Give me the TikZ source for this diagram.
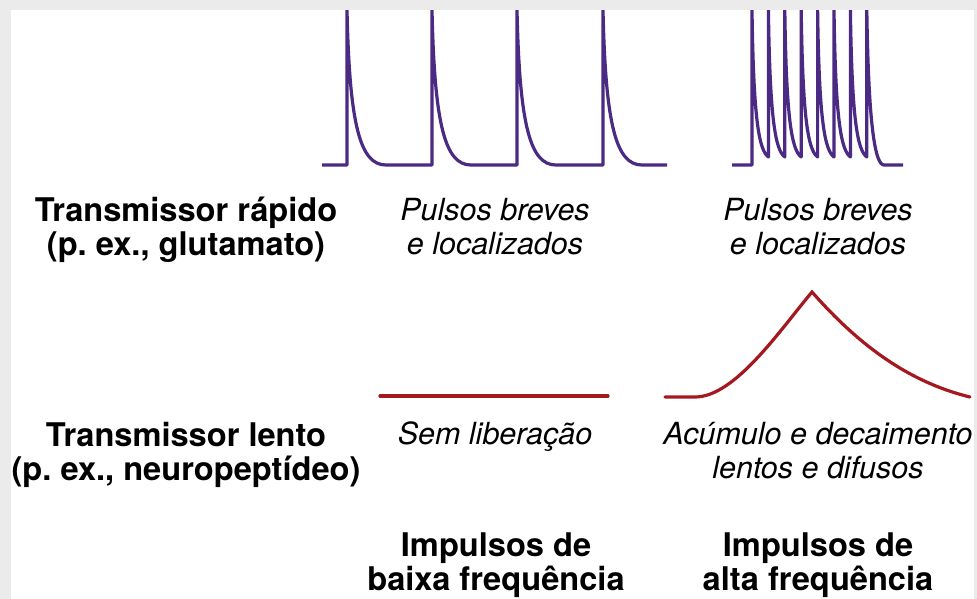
\documentclass[tikz,border=0pt]{standalone}
\usepackage{fontspec}
\setmainfont{TeX Gyre Heros}
\definecolor{bordergrey}{HTML}{EBEBEB}
\definecolor{purp}{HTML}{4A2A82}
\definecolor{dred}{HTML}{A3191F}
\frenchspacing
\begin{document}
\begin{tikzpicture}[x=1pt,y=-1pt,
  lbl/.style={font=\fontsize{32.6}{35}\selectfont\bfseries, anchor=base, inner sep=0pt},
  itl/.style={font=\fontsize{30.5}{34}\selectfont\itshape, anchor=base, inner sep=0pt},
  pwave/.style={draw=purp, line width=3.2pt, line join=round},
  rwave/.style={draw=dred, line width=3.2pt, line cap=round}]
\useasboundingbox (0,0) rectangle (977,599);
\fill[bordergrey] (0,0) rectangle (977,599);
\fill[white] (11,10) rectangle (974,599);
% low-frequency fast transmitter
\draw[pwave] (322,165) foreach \s in {347,432,517,603} { -- (\s,165) -- (\s,10) .. controls (\s+2.5,125) and (\s+13,165) .. (\s+39,165) } -- (667,165);
% high-frequency fast transmitter
\draw[pwave] (732,165) -- (752,165) foreach \i in {0,...,6} { -- ({752+16.4*\i},10) .. controls ({752+16.4*\i+1.5},120) and ({752+16.4*\i+7},150) .. ({752+16.4*(\i+1)},157) } -- (866.8,10) .. controls (868.5,125) and (875,165) .. (884,165) -- (903,165);
\fill[bordergrey] (0,0) rectangle (977,10);
% slow transmitter
\draw[rwave] (380,396) -- (608,396);
\draw[rwave] (665,397) -- (695,397) .. controls (735,397) and (780,330) .. (812,292) .. controls (850,335) and (900,380) .. (970,397);
% labels
\node[lbl] (r1a) at (186,221) {Transmissor rápido};
\node[lbl] (r1b) at (186,255) {(p. ex., glutamato)};
\node[lbl] (r2a) at (186,446) {Transmissor lento};
\node[lbl] (r2b) at (186,480) {(p. ex., neuropeptídeo)};
\node[itl] (p1a) at (495,220) {Pulsos breves};
\node[itl] (p1b) at (495,254) {e localizados};
\node[itl] (p2a) at (818,220) {Pulsos breves};
\node[itl] (p2b) at (818,254) {e localizados};
\node[itl] (s1) at (495,444) {Sem liberação};
\node[itl] (s2a) at (818,444) {Acúmulo e decaimento};
\node[itl] (s2b) at (818,478) {lentos e difusos};
\node[lbl] (b1a) at (496,556) {Impulsos de};
\node[lbl] (b1b) at (496,590) {baixa frequência};
\node[lbl] (b2a) at (818,556) {Impulsos de};
\node[lbl] (b2b) at (818,590) {alta frequência};
\end{tikzpicture}
\end{document}
